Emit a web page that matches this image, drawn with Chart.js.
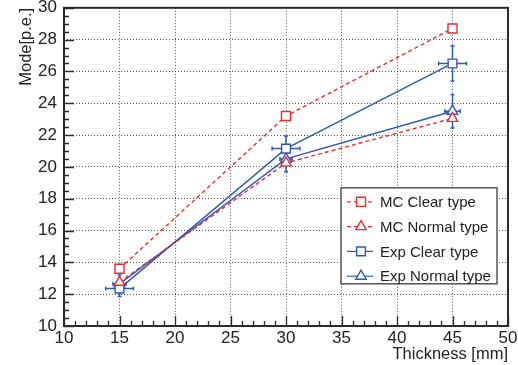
<!DOCTYPE html>
<html>
<head>
<meta charset="utf-8">
<script src="https://cdn.jsdelivr.net/npm/chart.js@4.4.0/dist/chart.umd.min.js"></script>
<style>
  html, body { margin: 0; padding: 0; background: #fff; }
</style>
</head>
<body>
<canvas id="chart" width="518" height="365"></canvas>
<script>
// thickness of the scintillator [mm]
const thickness = [15, 30, 45];

// mode of the light yield [p.e.]
const mcClear = [13.6, 23.2, 28.7];
const mcNormal = [12.75, 20.25, 23.05];
const expClear = [12.35, 21.15, 26.5];
const expNormal = [12.65, 20.5, 23.5];

// errors on the measured points
const expClearXErr = [1.25, 1.25, 1.25];
const expClearYErr = [0.5, 0.8, 1.1];
const expNormalXErr = [0.6, 0.55, 0.7];
const expNormalYErr = [0.55, 0.8, 1.05];

const xTicks = [10, 15, 20, 25, 30, 35, 40, 45, 50];
const yTicks = [10, 12, 14, 16, 18, 20, 22, 24, 26, 28, 30];

const RED = "#ec2c2c";
const BLUE = "#3159b3";
const FONT = "'Liberation Sans', Arial, sans-serif";

const pts = (ys) => thickness.map((t, i) => ({ x: t, y: ys[i] }));

function makeSet(label, ys, color, dashed, shape, radius, xErr, yErr) {
  return {
    label: label,
    data: pts(ys),
    borderColor: color,
    borderWidth: 1.4,
    borderDash: dashed ? [4, 3] : [],
    pointStyle: shape,
    pointRadius: radius,
    pointHoverRadius: radius,
    pointBorderColor: color,
    pointBorderWidth: 1.4,
    pointBackgroundColor: "#fff",
    tension: 0,
    fill: false,
    xErr: xErr,
    yErr: yErr,
  };
}

// error bars, drawn under the markers
const errorBars = {
  id: "errorBars",
  beforeDatasetsDraw(chart) {
    const ctx = chart.ctx;
    const xs = chart.scales.x, ys = chart.scales.y;
    chart.data.datasets.forEach((ds) => {
      if (!ds.xErr) return;
      ctx.save();
      ctx.strokeStyle = ds.borderColor;
      ctx.lineWidth = 1.5;
      ds.data.forEach((p, i) => {
        const cx = xs.getPixelForValue(p.x);
        const cy = ys.getPixelForValue(p.y);
        const xl = xs.getPixelForValue(p.x - ds.xErr[i]);
        const xr = xs.getPixelForValue(p.x + ds.xErr[i]);
        const yt = ys.getPixelForValue(p.y + ds.yErr[i]);
        const yb = ys.getPixelForValue(p.y - ds.yErr[i]);
        ctx.beginPath();
        ctx.moveTo(xl, cy); ctx.lineTo(xr, cy);
        ctx.moveTo(cx, yt); ctx.lineTo(cx, yb);
        ctx.moveTo(xl, cy - 2); ctx.lineTo(xl, cy + 2);
        ctx.moveTo(xr, cy - 2); ctx.lineTo(xr, cy + 2);
        ctx.moveTo(cx - 2, yt); ctx.lineTo(cx + 2, yt);
        ctx.moveTo(cx - 2, yb); ctx.lineTo(cx + 2, yb);
        ctx.stroke();
      });
      ctx.restore();
    });
  }
};

// ROOT style frame with inward ticks
const frame = {
  id: "frame",
  beforeDatasetsDraw(chart) {
    const ctx = chart.ctx;
    const a = chart.chartArea;
    const xs = chart.scales.x, ys = chart.scales.y;
    ctx.save();
    ctx.strokeStyle = "#2a2a2a";
    ctx.lineWidth = 1.3;
    ctx.beginPath();
    for (let v = xs.min; v <= xs.max; v += 1) {
      const px = Math.round(xs.getPixelForValue(v)) + 0.5;
      const len = v % 5 === 0 ? 10 : 5;
      ctx.moveTo(px, a.bottom); ctx.lineTo(px, a.bottom - len);
    }
    for (let v = ys.min; v <= ys.max; v += 0.5) {
      const py = Math.round(ys.getPixelForValue(v)) + 0.5;
      const len = v % 2 === 0 ? 10 : 5;
      ctx.moveTo(a.left, py); ctx.lineTo(a.left + len, py);
    }
    ctx.stroke();
    ctx.lineWidth = 2;
    ctx.strokeRect(a.left, a.top, a.right - a.left, a.bottom - a.top);
    ctx.restore();
  },
  afterDraw(chart) {
    const ctx = chart.ctx;
    const a = chart.chartArea;
    ctx.save();
    ctx.fillStyle = "#222";
    ctx.font = "16.5px " + FONT;
    ctx.textAlign = "right";
    ctx.textBaseline = "alphabetic";
    ctx.fillText("Thickness [mm]", a.right, a.bottom + 33);
    ctx.translate(31, a.top);
    ctx.rotate(-Math.PI / 2);
    ctx.fillText("Mode[p.e.]", 0, 0);
    ctx.restore();
  }
};

// boxed legend inside the frame, bottom right
const boxLegend = {
  id: "boxLegend",
  afterDatasetsDraw(chart) {
    const ctx = chart.ctx;
    const a = chart.chartArea;
    const left = a.right - 167, top = a.top + 180, w = 156, h = 96;
    ctx.save();
    ctx.fillStyle = "#fff";
    ctx.fillRect(left, top, w, h);
    ctx.strokeStyle = "#555";
    ctx.lineWidth = 1.5;
    ctx.strokeRect(left, top, w, h);
    chart.data.datasets.forEach((ds, i) => {
      const y = top + 14 + i * 24.8;
      ctx.strokeStyle = ds.borderColor;
      ctx.lineWidth = 1.2;
      ctx.setLineDash(ds.borderDash);
      ctx.beginPath();
      ctx.moveTo(left + 6, y); ctx.lineTo(left + 32, y);
      ctx.stroke();
      ctx.setLineDash([]);
      ctx.fillStyle = "#fff";
      ctx.lineWidth = 1.4;
      Chart.helpers.drawPoint(ctx, {
        pointStyle: ds.pointStyle, radius: ds.pointRadius, borderWidth: 1.4, rotation: 0
      }, left + 20, y);
      ctx.fillStyle = "#222";
      ctx.font = "15px " + FONT;
      ctx.textAlign = "left";
      ctx.textBaseline = "middle";
      ctx.fillText(ds.label, left + 39, y + 1);
    });
    ctx.restore();
  }
};

const gridColor = (edges) => (c) => edges.includes(c.tick.value) ? "rgba(0,0,0,0)" : "#555";

new Chart(document.getElementById("chart"), {
  type: "line",
  data: {
    datasets: [
      makeSet("MC Clear type", mcClear, RED, true, "rect", 6.4),
      makeSet("MC Normal type", mcNormal, RED, true, "triangle", 6),
      makeSet("Exp Clear type", expClear, BLUE, false, "rect", 6.2, expClearXErr, expClearYErr),
      makeSet("Exp Normal type", expNormal, BLUE, false, "triangle", 6, expNormalXErr, expNormalYErr),
    ]
  },
  options: {
    responsive: false,
    animation: false,
    layout: { padding: { left: 0, top: 5, right: 10, bottom: 0 } },
    plugins: {
      legend: { display: false },
      tooltip: { enabled: false },
    },
    scales: {
      x: {
        type: "linear",
        min: 10, max: 50,
        afterBuildTicks: (s) => { s.ticks = xTicks.map((v) => ({ value: v })); },
        afterFit: (s) => { s.height = 39; s.paddingLeft = 0; s.paddingRight = 0; },
        ticks: { color: "#222", padding: 2, font: { family: FONT, size: 17 } },
        grid: { color: gridColor([10, 50]), lineWidth: 1, drawTicks: false },
        border: { display: false, dash: [1, 2] },
      },
      y: {
        type: "linear",
        min: 10, max: 30,
        afterBuildTicks: (s) => { s.ticks = yTicks.map((v) => ({ value: v })); },
        afterFit: (s) => { s.width = 64; s.paddingTop = 0; s.paddingBottom = 0; },
        ticks: { color: "#222", padding: 7, font: { family: FONT, size: 17 } },
        grid: { color: gridColor([10, 30]), lineWidth: 1, drawTicks: false },
        border: { display: false, dash: [1, 2] },
      }
    }
  },
  plugins: [errorBars, frame, boxLegend]
});
</script>
</body>
</html>
